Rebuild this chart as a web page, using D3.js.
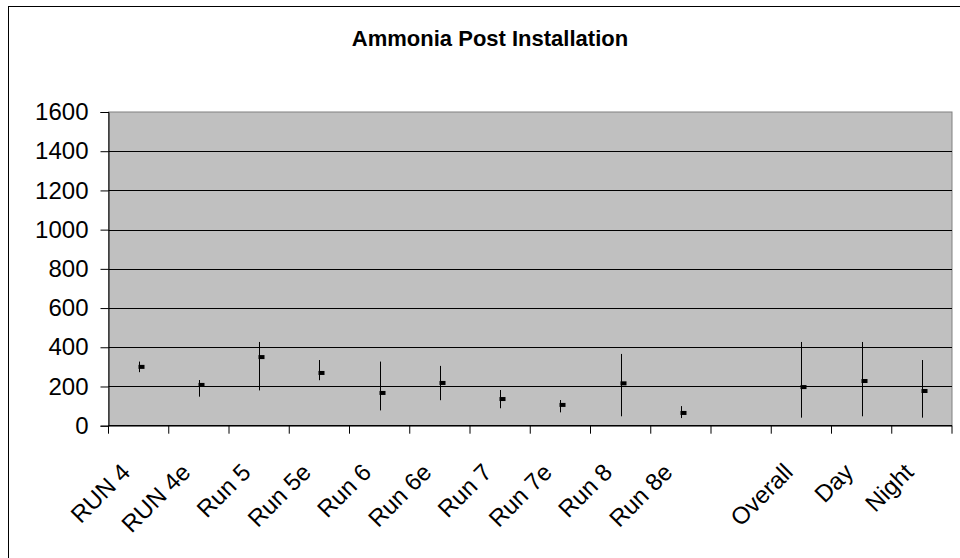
<!DOCTYPE html>
<html lang="en">
<head>
<meta charset="UTF-8">
<title>Ammonia Post Installation</title>
<style>
  body { margin: 0; background: #fff; }
  svg text { font-family: "Liberation Sans", Arial, sans-serif; fill: #000; }
  .grid line { stroke: #000; stroke-width: 1px; }
  .err { stroke: #000; stroke-width: 1px; }
  .mark { fill: #000; }
</style>
</head>
<body>
<svg width="960" height="558"></svg>
<script src="https://cdnjs.cloudflare.com/ajax/libs/d3/7.8.5/d3.min.js"></script>
<script>
// categories (the empty one is a gap slot on the axis)
var categories = ["RUN 4", "RUN 4e", "Run 5", "Run 5e", "Run 6", "Run 6e", "Run 7", "Run 7e", "Run 8", "Run 8e", "", "Overall", "Day", "Night"];
var means = [300, 208, 350, 269, 167, 218, 136, 106, 216, 65, null, 197, 228, 177];
var highs = [327, 233, 427, 335, 327, 305, 182, 131, 366, 100, null, 427, 427, 335];
var lows  = [273, 148, 180, 232, 78, 130, 89, 68, 48, 39, null, 41, 48, 41];
var yTicks = [0, 200, 400, 600, 800, 1000, 1200, 1400, 1600];

var data = categories.map(function (c, i) {
    return { cat: c, key: i, mean: means[i], high: highs[i], low: lows[i] };
});

var svg = d3.select("svg");
var plotL = 108.5, plotR = 952, plotT = 112, plotB = 425.7;

// outer chart border (runs off the right and bottom of the picture)
svg.append("rect")
    .attr("x", 8.5).attr("y", 6.5)
    .attr("width", 980).attr("height", 580)
    .attr("fill", "#fff").attr("stroke", "#000").attr("stroke-width", 1);

svg.append("text")
    .attr("x", 490).attr("y", 46)
    .attr("text-anchor", "middle")
    .style("font-size", "22px").style("font-weight", "bold")
    .text("Ammonia Post Installation");

var x = d3.scaleBand().domain(d3.range(categories.length)).range([plotL, plotR]).padding(0);
var y = d3.scaleLinear().domain([0, 1600]).range([plotB, plotT]);

// plot area
svg.append("rect")
    .attr("x", plotL).attr("y", plotT)
    .attr("width", plotR - plotL).attr("height", plotB - plotT)
    .attr("fill", "#c0c0c0").attr("stroke", "#808080").attr("stroke-width", 1);

// gridlines
svg.append("g").attr("class", "grid")
    .selectAll("line").data(yTicks.slice(1, -1)).enter().append("line")
    .attr("x1", plotL).attr("x2", plotR)
    .attr("y1", function (d) { return Math.round(y(d)) + 0.5; })
    .attr("y2", function (d) { return Math.round(y(d)) + 0.5; });

// y axis
var yAxis = svg.append("g")
    .attr("transform", "translate(" + plotL + ",0)")
    .call(d3.axisLeft(y).tickValues(yTicks).tickSize(8).tickPadding(12).tickFormat(d3.format("d")));
yAxis.select(".domain").attr("stroke", "#000");
yAxis.selectAll("text").style("font-size", "24px").style("font-family", "Liberation Sans, Arial, sans-serif");

// x axis: ticks between categories, under the axis line
var xAxis = svg.append("g").attr("transform", "translate(0," + plotB + ")");
xAxis.append("line").attr("x1", plotL).attr("x2", plotR).attr("stroke", "#000").attr("stroke-width", 1.5);
xAxis.selectAll(".tk").data(d3.range(categories.length + 1)).enter().append("line")
    .attr("class", "tk")
    .attr("x1", function (i) { return plotL + i * x.step(); })
    .attr("x2", function (i) { return plotL + i * x.step(); })
    .attr("y1", 0).attr("y2", 8)
    .attr("stroke", "#000");
xAxis.selectAll(".lbl").data(data).enter().append("text")
    .attr("class", "lbl")
    .attr("text-anchor", "end")
    .style("font-size", "24px")
    .attr("transform", function (d) {
        return "translate(" + (x(d.key) + x.bandwidth() / 2 - 7) + ",48) rotate(-45)";
    })
    .text(function (d) { return d.cat; });

// error bars and markers
var pts = data.filter(function (d) { return d.mean !== null; });
svg.selectAll(".err").data(pts).enter().append("line")
    .attr("class", "err")
    .attr("x1", function (d) { return Math.round(x(d.key) + x.bandwidth() / 2) + 0.5; })
    .attr("x2", function (d) { return Math.round(x(d.key) + x.bandwidth() / 2) + 0.5; })
    .attr("y1", function (d) { return y(d.high); })
    .attr("y2", function (d) { return y(d.low); });
svg.selectAll(".mark").data(pts).enter().append("rect")
    .attr("class", "mark")
    .attr("x", function (d) { return Math.round(x(d.key) + x.bandwidth() / 2) - 0.5; })
    .attr("y", function (d) { return y(d.mean) - 2; })
    .attr("width", 6).attr("height", 4);
</script>
</body>
</html>
